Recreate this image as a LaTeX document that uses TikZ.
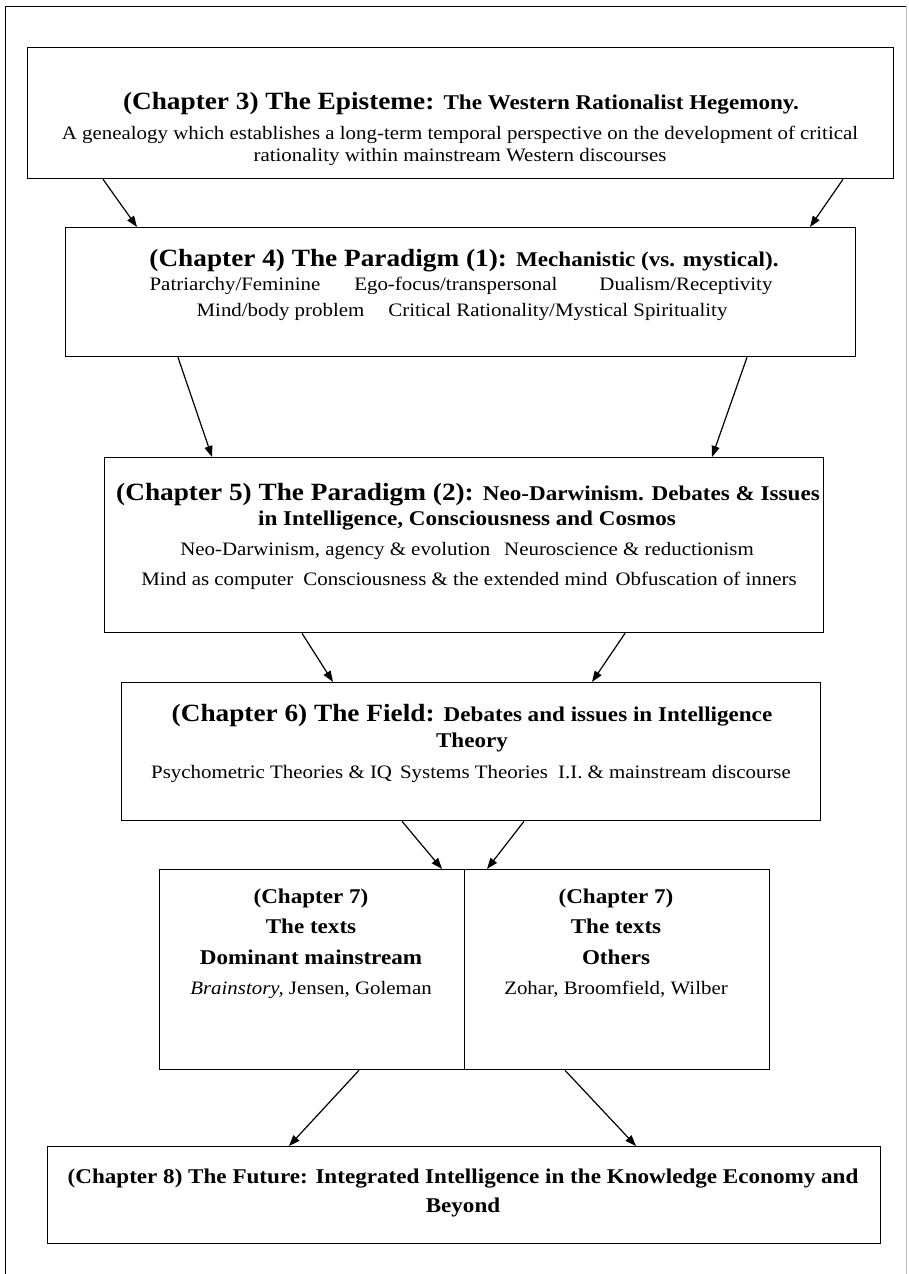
\documentclass[tikz,border=0pt]{standalone}
\usepackage{fontspec}
\setmainfont{Liberation Serif}[FakeStretch=1.1]
\usetikzlibrary{arrows.meta}
\newcommand\chbig{\fontsize{24.8}{28}\selectfont\bfseries}
\newcommand\chsub{\fontsize{21}{25}\selectfont\bfseries}
\newcommand\chbody{\fontsize{19}{22}\selectfont}
\begin{document}
\begin{tikzpicture}[x=1pt,y=-1pt,
  box/.style={draw, line width=1.3pt, inner sep=0pt, anchor=north west},
  txt/.style={anchor=base, inner sep=0pt},
  arr/.style={-{Triangle[length=11pt,width=8pt]}, line width=1.2pt}]
\useasboundingbox (0,0) rectangle (908,1274);
% outer frame
\coordinate (fbl) at (5,1274);
\coordinate (ftl) at (5,6);
\coordinate (ftr) at (906,6);
\coordinate (fbr) at (906,1274);
\draw[line width=1pt] (fbl) -- (ftl) -- (ftr);
\draw[line width=0.6pt, black!25] (ftr) -- (fbr);
% boxes
\node[box, minimum width=866pt, minimum height=131pt] (b1) at (27,47) {};
\node[box, minimum width=790pt, minimum height=129pt] (b2) at (65,227) {};
\node[box, minimum width=719pt, minimum height=175pt] (b3) at (104,457) {};
\node[box, minimum width=699pt, minimum height=138pt] (b4) at (121,682) {};
\node[box, minimum width=305pt, minimum height=200pt] (b5l) at (159,869) {};
\node[box, minimum width=305pt, minimum height=200pt] (b5r) at (464,869) {};
\node[box, minimum width=833pt, minimum height=97pt] (b6) at (47,1146) {};
% texts box 1
\node[txt] (t1a) at (461,109) {\chbig (Chapter 3) The Episteme: \chsub The Western Rationalist Hegemony.};
\node[txt] (t1b) at (460,139) {\chbody A genealogy which establishes a long-term temporal perspective on the development of critical};
\node[txt] (t1c) at (460,161) {\chbody rationality within mainstream Western discourses};
% box 2
\node[txt] (t2a) at (464,266) {\chbig (Chapter 4) The Paradigm (1): \chsub Mechanistic (vs. mystical).};
\node[txt] (t2b) at (461,290) {\chbody Patriarchy/Feminine\hspace{34pt}Ego-focus/transpersonal\hspace{42pt}Dualism/Receptivity};
\node[txt] (t2c) at (462,316) {\chbody Mind/body problem\hspace{24pt}Critical Rationality/Mystical Spirituality};
% box 3
\node[txt] (t3a) at (468,500) {\chbig (Chapter 5) The Paradigm (2): \chsub Neo-Darwinism. Debates \& Issues};
\node[txt] (t3b) at (467,525) {\chsub in Intelligence, Consciousness and Cosmos};
\node[txt] (t3c) at (467,555) {\chbody Neo-Darwinism, agency \& evolution\hspace{14pt}Neuroscience \& reductionism};
\node[txt] (t3d) at (469,585) {\chbody Mind as computer\hspace{10pt}Consciousness \& the extended mind\hspace{8pt}Obfuscation of inners};
% box 4
\node[txt] (t4a) at (472,721) {\chbig (Chapter 6) The Field: \chsub Debates and issues in Intelligence};
\node[txt] (t4b) at (472,747) {\chsub Theory};
\node[txt] (t4c) at (471,778) {\chbody Psychometric Theories \& IQ\hspace{8pt}Systems Theories\hspace{10pt}I.I. \& mainstream discourse};
% box 5
\node[txt] (t5a) at (311,903) {\chsub (Chapter 7)};
\node[txt] (t5b) at (311,933) {\chsub The texts};
\node[txt] (t5c) at (311,964) {\chsub Dominant mainstream};
\node[txt] (t5d) at (311,994) {\chbody \textit{Brainstory,} Jensen, Goleman};
\node[txt] (t5e) at (616,903) {\chsub (Chapter 7)};
\node[txt] (t5f) at (616,933) {\chsub The texts};
\node[txt] (t5g) at (616,964) {\chsub Others};
\node[txt] (t5h) at (616,994) {\chbody Zohar, Broomfield, Wilber};
% box 6
\node[txt] (t6a) at (463,1183) {\chsub (Chapter 8) The Future: Integrated Intelligence in the Knowledge Economy and};
\node[txt] (t6b) at (463,1212) {\chsub Beyond};
% arrows
\draw[arr] ([xshift=76pt]b1.south west) -- ([xshift=72pt]b2.north west);
\draw[arr] ([xshift=816pt]b1.south west) -- ([xshift=745pt]b2.north west);
\draw[arr] ([xshift=113pt]b2.south west) -- ([xshift=108pt]b3.north west);
\draw[arr] ([xshift=682pt]b2.south west) -- ([xshift=608pt]b3.north west);
\draw[arr] ([xshift=198pt]b3.south west) -- ([xshift=212pt]b4.north west);
\draw[arr] ([xshift=521pt]b3.south west) -- ([xshift=471pt]b4.north west);
\draw[arr] ([xshift=281pt]b4.south west) -- ([xshift=283pt]b5l.north west);
\draw[arr] ([xshift=403pt]b4.south west) -- ([xshift=23pt]b5r.north west);
\draw[arr] ([xshift=200pt]b5l.south west) -- ([xshift=242pt]b6.north west);
\draw[arr] ([xshift=101pt]b5r.south west) -- ([xshift=589pt]b6.north west);
\end{tikzpicture}
\end{document}
